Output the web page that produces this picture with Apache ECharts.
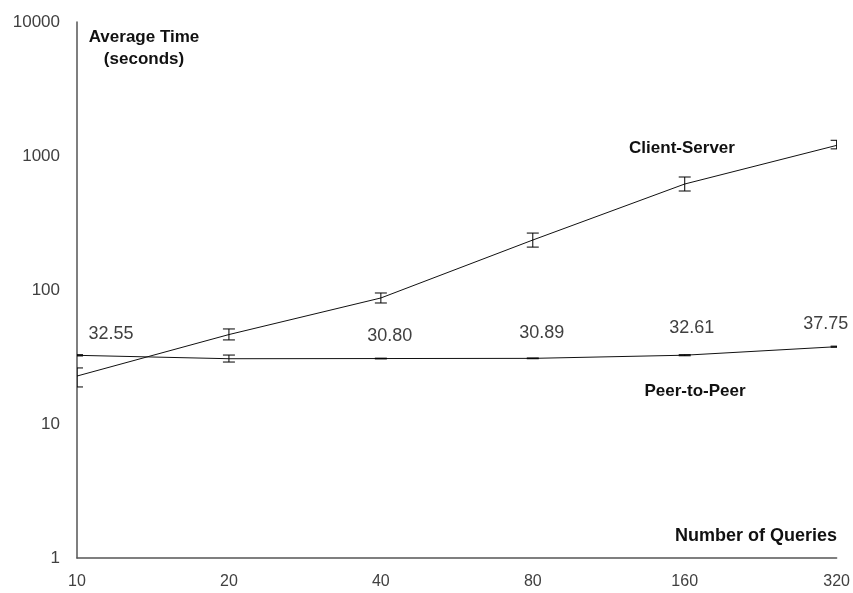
<!DOCTYPE html>
<html>
<head>
<meta charset="utf-8">
<script src="https://cdn.jsdelivr.net/npm/echarts@6/dist/echarts.min.js"></script>
<style>
html,body{margin:0;padding:0;background:#fff;}
#chart{width:853px;height:593px;}
</style>
</head>
<body>
<div id="chart"></div>
<script>
const categories = ['10', '20', '40', '80', '160', '320'];
const clientServer = [22.8, 46.5, 87.2, 236, 618, 1200];
const clientServerLow = [18.9, 42.4, 80, 209, 548, 1130];
const clientServerHigh = [26.2, 51.2, 95, 266, 697, 1310];
const peerToPeer = [32.55, 30.7, 30.80, 30.89, 32.61, 37.75];
const peerLow = [32.2, 29.0, 30.6, 30.7, 32.3, 37.4];
const peerHigh = [32.9, 32.7, 31.0, 31.1, 32.9, 38.1];
const peerLabelShown = [true, false, true, true, true, true];
const peerLabelOffsets = [[34, -21], [0, 0], [9, -23], [9, -25], [7, -27], [-11, -23]];

const FONT = '"Liberation Sans", Arial, sans-serif';

const chart = echarts.init(document.getElementById('chart'), null, {renderer: 'canvas'});

function errorBarRender(params, api) {
  const x = api.value(0);
  const lo = api.coord([x, api.value(1)]);
  const hi = api.coord([x, api.value(2)]);
  const hw = 6;
  const style = {stroke: '#000', lineWidth: 1, fill: null};
  return {
    type: 'group',
    children: [
      {type: 'line', shape: {x1: lo[0], y1: lo[1], x2: hi[0], y2: hi[1]}, style: style},
      {type: 'line', shape: {x1: lo[0] - hw, y1: lo[1], x2: lo[0] + hw, y2: lo[1]}, style: style},
      {type: 'line', shape: {x1: hi[0] - hw, y1: hi[1], x2: hi[0] + hw, y2: hi[1]}, style: style}
    ]
  };
}

const csErr = categories.map((c, i) => [i, clientServerLow[i], clientServerHigh[i]]);
const p2pErr = categories.map((c, i) => [i, peerLow[i], peerHigh[i]]);

const p2pData = peerToPeer.map((v, i) => ({
  value: v,
  label: {show: peerLabelShown[i], offset: peerLabelOffsets[i]}
}));

chart.setOption({
  animation: false,
  backgroundColor: '#fff',
  grid: {left: 77, right: 16, top: 22, bottom: 35, containLabel: false},
  xAxis: {
    type: 'category',
    data: categories,
    boundaryGap: false,
    axisLine: {show: true, lineStyle: {color: '#555', width: 1.5}},
    axisTick: {show: false},
    axisLabel: {color: '#404040', fontFamily: FONT, fontSize: 16, margin: 16},
    splitLine: {show: false}
  },
  yAxis: {
    type: 'log',
    logBase: 10,
    min: 1,
    max: 10000,
    axisLine: {show: true, lineStyle: {color: '#555', width: 1.5}},
    axisTick: {show: false},
    splitLine: {show: false},
    axisLabel: {
      color: '#404040', fontFamily: FONT, fontSize: 17, margin: 17,
      formatter: v => String(Math.round(v))
    }
  },
  series: [
    {
      name: 'Client-Server',
      type: 'line',
      data: clientServer,
      symbol: 'none',
      lineStyle: {color: '#111', width: 1},
      z: 3
    },
    {
      name: 'Peer-to-Peer',
      type: 'line',
      data: p2pData,
      symbol: 'circle',
      symbolSize: 1,
      showSymbol: true,
      itemStyle: {color: 'transparent'},
      lineStyle: {color: '#111', width: 1},
      label: {
        show: true,
        position: 'inside',
        formatter: p => p.value.toFixed(2),
        color: '#404040',
        fontFamily: FONT,
        fontSize: 18
      },
      z: 3
    },
    {
      type: 'custom',
      data: csErr,
      renderItem: errorBarRender,
      clip: true,
      z: 4
    },
    {
      type: 'custom',
      data: p2pErr,
      renderItem: errorBarRender,
      clip: true,
      z: 4
    }
  ],
  graphic: [
    {
      type: 'text', x: 144, y: 37,
      style: {text: 'Average Time', align: 'center', verticalAlign: 'middle', font: 'bold 17px ' + FONT, fill: '#111'}
    },
    {
      type: 'text', x: 144, y: 59,
      style: {text: '(seconds)', align: 'center', verticalAlign: 'middle', font: 'bold 17px ' + FONT, fill: '#111'}
    },
    {
      type: 'text', x: 682, y: 148,
      style: {text: 'Client-Server', align: 'center', verticalAlign: 'middle', font: 'bold 17px ' + FONT, fill: '#111'}
    },
    {
      type: 'text', x: 695, y: 391,
      style: {text: 'Peer-to-Peer', align: 'center', verticalAlign: 'middle', font: 'bold 17px ' + FONT, fill: '#111'}
    },
    {
      type: 'text', x: 837, y: 536,
      style: {text: 'Number of Queries', align: 'right', verticalAlign: 'middle', font: 'bold 18px ' + FONT, fill: '#111'}
    }
  ]
});
</script>
</body>
</html>
